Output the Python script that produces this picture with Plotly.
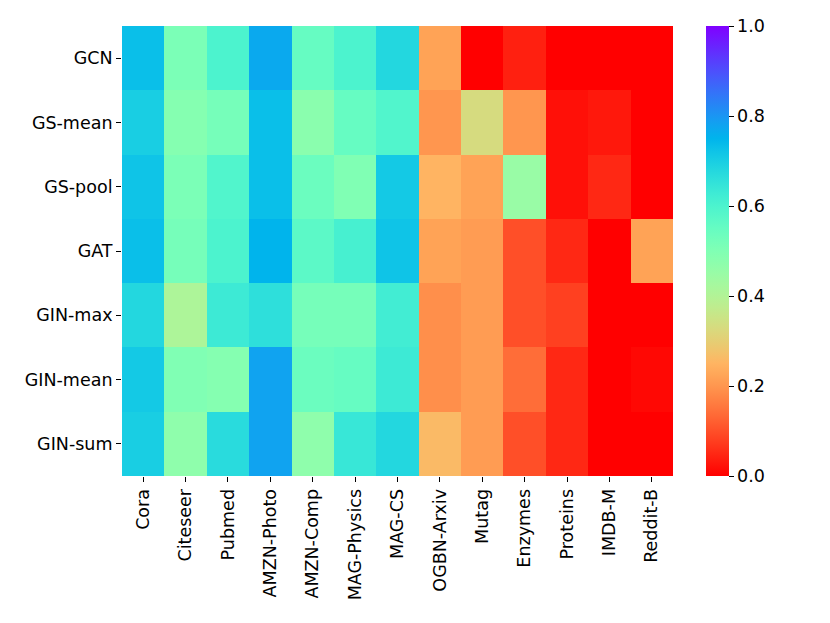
import numpy as np
import plotly.graph_objects as go

models = ["GCN", "GS-mean", "GS-pool", "GAT", "GIN-max", "GIN-mean", "GIN-sum"]
datasets = ["Cora", "Citeseer", "Pubmed", "AMZN-Photo", "AMZN-Comp", "MAG-Physics",
            "MAG-CS", "OGBN-Arxiv", "Mutag", "Enzymes", "Proteins", "IMDB-M", "Reddit-B"]

gcn      = [0.73, 0.51, 0.60, 0.77, 0.55, 0.60, 0.68, 0.22, 0.00, 0.04, 0.00, 0.00, 0.00]
gs_mean  = [0.70, 0.49, 0.52, 0.73, 0.48, 0.55, 0.59, 0.20, 0.33, 0.20, 0.02, 0.03, 0.00]
gs_pool  = [0.72, 0.51, 0.59, 0.73, 0.54, 0.50, 0.71, 0.25, 0.22, 0.45, 0.02, 0.05, 0.00]
gat      = [0.73, 0.52, 0.60, 0.75, 0.57, 0.61, 0.72, 0.22, 0.21, 0.10, 0.05, 0.00, 0.22]
gin_max  = [0.68, 0.41, 0.63, 0.66, 0.52, 0.52, 0.62, 0.19, 0.21, 0.10, 0.08, 0.00, 0.00]
gin_mean = [0.71, 0.50, 0.49, 0.78, 0.54, 0.55, 0.63, 0.19, 0.21, 0.14, 0.05, 0.00, 0.01]
gin_sum  = [0.70, 0.47, 0.67, 0.78, 0.47, 0.64, 0.68, 0.26, 0.21, 0.10, 0.05, 0.00, 0.00]

z = [gcn, gs_mean, gs_pool, gat, gin_max, gin_mean, gin_sum]

# matplotlib 'rainbow_r' colormap
def rainbow_r(v):
    x = 1 - v
    r = min(1.0, abs(2 * x - 0.5))
    g = np.sin(np.pi * x)
    b = np.cos(np.pi * x / 2)
    return "rgb(%d,%d,%d)" % (round(r * 255), round(max(g, 0) * 255), round(max(b, 0) * 255))

stops = np.linspace(0, 1, 41)
colorscale = [[float(s), rainbow_r(s)] for s in stops]

FONT = "DejaVu Sans"
FS = 17.5

fig = go.Figure(go.Heatmap(
    z=z, x=datasets, y=models,
    colorscale=colorscale, zmin=0, zmax=1,
    colorbar=dict(
        x=1.06, xanchor="left", xref="paper", xpad=0, ypad=0,
        y=0.5, yanchor="middle", len=1.0, lenmode="fraction",
        thickness=23, outlinewidth=0,
        tickvals=[0, 0.2, 0.4, 0.6, 0.8, 1.0],
        ticktext=["0.0", "0.2", "0.4", "0.6", "0.8", "1.0"],
        ticks="outside", ticklen=5, tickcolor="black",
        tickfont=dict(family=FONT, size=FS, color="black"),
    ),
))

fig.update_layout(
    width=822, height=615,
    margin=dict(l=114, r=157, t=18, b=147),
    paper_bgcolor="white", plot_bgcolor="white",
    font=dict(family=FONT, size=FS, color="black"),
)
fig.update_xaxes(
    tickangle=-90, ticks="outside", ticklen=5, tickcolor="black",
    showgrid=False, zeroline=False, showline=False,
    tickfont=dict(family=FONT, size=FS, color="black"),
)
fig.update_yaxes(
    autorange="reversed", ticks="outside", ticklen=5, tickcolor="black",
    showgrid=False, zeroline=False, showline=False,
    tickfont=dict(family=FONT, size=FS, color="black"),
)

fig.write_html("out.html")
